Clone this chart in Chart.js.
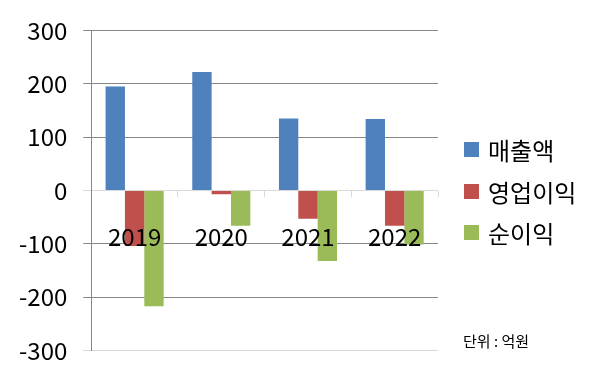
<!DOCTYPE html>
<html>
<head>
<meta charset="utf-8">
<script src="https://cdn.jsdelivr.net/npm/chart.js@4.4.0/dist/chart.umd.min.js"></script>
<style>
html,body{margin:0;padding:0;background:#fff;}
#wrap{position:relative;width:600px;height:381px;}
</style>
</head>
<body>
<div id="wrap"><canvas id="c" width="600" height="381"></canvas></div>
<script>
const categories = ['2019', '2020', '2021', '2022'];
const seriesNames = ['매출액', '영업이익', '순이익'];
const sales = [195, 222, 135, 134];
const operatingProfit = [-104, -7, -53, -66];
const netProfit = [-217, -66, -132, -101];
const yTicks = [300, 200, 100, 0, -100, -200, -300];
const unitLabel = '단위 : 억원';

const colors = ['#4F81BD', '#C0504D', '#9BBB59'];
const FONT = '"Noto Sans CJK KR", "Noto Sans", sans-serif';

const legendPlugin = {
  id: 'customLegend',
  afterDraw(chart) {
    const ctx = chart.ctx;
    ctx.save();
    ctx.font = '24px ' + FONT;
    ctx.textBaseline = 'middle';
    ctx.textAlign = 'left';
    const rows = [150, 192, 233];
    chart.data.datasets.forEach((ds, i) => {
      ctx.fillStyle = ds.backgroundColor;
      ctx.fillRect(464, rows[i] - 8, 15, 15);
      ctx.fillStyle = '#000';
      ctx.fillText(ds.label, 488, rows[i] + 1);
    });
    ctx.font = '15px ' + FONT;
    ctx.fillText(unitLabel, 463, 341);
    ctx.restore();
  }
};

new Chart(document.getElementById('c'), {
  type: 'bar',
  data: {
    labels: categories,
    datasets: [
      { label: seriesNames[0], data: sales, backgroundColor: colors[0] },
      { label: seriesNames[1], data: operatingProfit, backgroundColor: colors[1] },
      { label: seriesNames[2], data: netProfit, backgroundColor: colors[2] }
    ]
  },
  options: {
    responsive: false,
    animation: false,
    devicePixelRatio: 1,
    layout: { padding: { left: 3, top: 29, bottom: 29, right: 162 } },
    datasets: { bar: { categoryPercentage: 0.67, barPercentage: 1.0 } },
    plugins: { legend: { display: false }, tooltip: { enabled: false } },
    scales: {
      x: {
        position: { y: 0 },
        grid: { display: true, drawOnChartArea: false, drawTicks: true, tickLength: 6, offset: true, color: '#D9D9D9' },
        border: { display: false },
        ticks: { z: 1, color: '#000', font: { family: FONT, size: 24 }, padding: 26, maxRotation: 0 }
      },
      y: {
        min: -300, max: 300,
        afterBuildTicks(axis) { axis.ticks = yTicks.map(v => ({ value: v })); },
        grid: {
          color: (c) => (c.tick && (c.tick.value === 0 || c.tick.value === -300)) ? '#D9D9D9' : '#868686',
          tickLength: 8
        },
        border: { display: true, color: '#868686' },
        ticks: { color: '#000', font: { family: FONT, size: 24 }, padding: 16 }
      }
    }
  },
  plugins: [legendPlugin]
});
</script>
</body>
</html>
